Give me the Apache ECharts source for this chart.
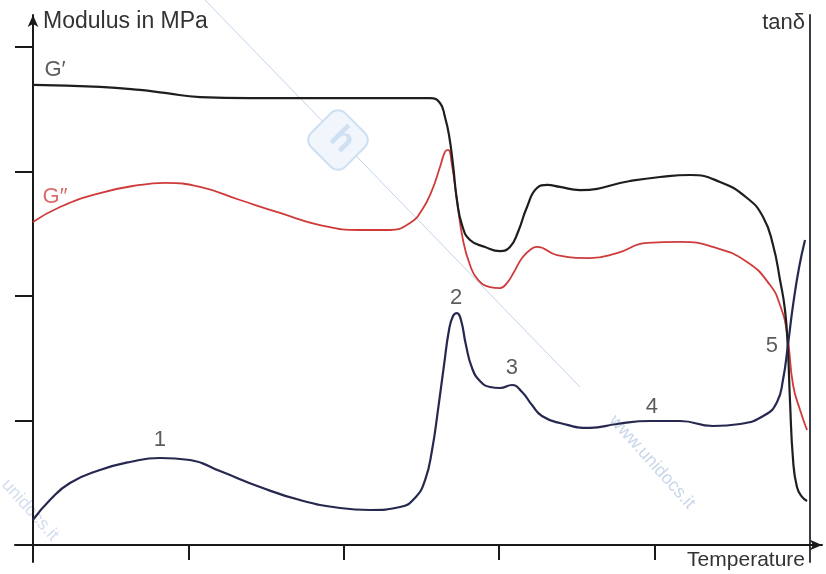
<!DOCTYPE html>
<html>
<head>
<meta charset="utf-8">
<script src="https://cdn.jsdelivr.net/npm/echarts@6/dist/echarts.min.js"></script>
<style>html,body{margin:0;padding:0;background:#fff}#c{width:826px;height:574px}</style>
</head>
<body>
<div id="c"></div>
<script>
// Temperature axis: relative units, ticks at 0..4 (unlabelled)
const xTicks = [0, 1, 2, 3, 4];
const yTicks = [1, 2, 3, 4];

// G' (storage modulus)
const gPrimeT = [0, 0.431, 0.689, 0.849, 1.075, 1.396, 1.847, 2.362, 2.555, 2.619, 2.651, 2.677, 2.703, 2.728, 2.761, 2.812, 2.909, 3.005, 3.069, 3.121, 3.179, 3.243, 3.308, 3.391, 3.520, 3.842, 4.035, 4.228, 4.421, 4.595, 4.698, 4.762, 4.807, 4.839, 4.858, 4.871, 4.891, 4.916, 4.949, 4.981];
const gPrimeV = [3.695, 3.679, 3.655, 3.631, 3.598, 3.590, 3.590, 3.590, 3.590, 3.550, 3.438, 3.293, 3.052, 2.771, 2.570, 2.450, 2.394, 2.361, 2.394, 2.514, 2.715, 2.867, 2.892, 2.876, 2.851, 2.924, 2.956, 2.972, 2.916, 2.787, 2.635, 2.410, 2.129, 1.888, 1.566, 1.165, 0.683, 0.466, 0.386, 0.353];

// G'' (loss modulus)
const gDoublePrimeT = [0, 0.174, 0.431, 0.689, 0.849, 1.075, 1.332, 1.589, 1.847, 2.104, 2.297, 2.426, 2.503, 2.568, 2.619, 2.651, 2.671, 2.696, 2.728, 2.767, 2.812, 2.864, 2.941, 3.005, 3.050, 3.095, 3.147, 3.198, 3.243, 3.372, 3.584, 3.758, 3.951, 4.163, 4.376, 4.595, 4.743, 4.807, 4.852, 4.891, 4.936, 4.981];
const gDoublePrimeV = [2.594, 2.715, 2.827, 2.892, 2.908, 2.876, 2.771, 2.667, 2.570, 2.530, 2.530, 2.586, 2.691, 2.851, 3.036, 3.157, 3.173, 3.052, 2.771, 2.450, 2.249, 2.129, 2.072, 2.064, 2.104, 2.193, 2.305, 2.369, 2.394, 2.329, 2.305, 2.345, 2.426, 2.434, 2.394, 2.273, 2.088, 1.928, 1.703, 1.285, 1.084, 0.924];

// tan delta
const tanDeltaT = [0, 0.109, 0.238, 0.431, 0.624, 0.817, 1.010, 1.203, 1.461, 1.718, 1.976, 2.169, 2.362, 2.458, 2.523, 2.568, 2.606, 2.645, 2.677, 2.703, 2.728, 2.754, 2.786, 2.825, 2.876, 2.941, 3.005, 3.082, 3.147, 3.211, 3.275, 3.391, 3.584, 3.758, 3.970, 4.163, 4.376, 4.550, 4.710, 4.788, 4.826, 4.858, 4.891, 4.929, 4.968];
const tanDeltaV = [0.201, 0.361, 0.498, 0.602, 0.667, 0.699, 0.683, 0.594, 0.466, 0.361, 0.297, 0.281, 0.305, 0.378, 0.522, 0.763, 1.084, 1.446, 1.727, 1.839, 1.863, 1.807, 1.606, 1.422, 1.317, 1.269, 1.261, 1.285, 1.229, 1.124, 1.036, 0.980, 0.940, 0.972, 0.996, 0.996, 0.956, 0.972, 1.044, 1.149, 1.325, 1.606, 1.928, 2.225, 2.450];

// Annotations (text, temperature, value)
const noteText = ["G\u2032", "G\u2033", "1", "2", "3", "4", "5"];
const noteT = [0.142, 0.142, 0.817, 2.722, 3.082, 3.983, 4.755];
const noteV = [3.815, 2.795, 0.843, 1.984, 1.422, 1.108, 1.598];
const noteIsRed = [false, true, false, false, false, false, false];

const zip = (a, b) => a.map((v, i) => [v, b[i]]);
const FONT = "'Liberation Sans', Arial, sans-serif";
const TXT = '#333';

const chart = echarts.init(document.getElementById('c'), null, {renderer: 'canvas'});
const axisBase = {
  splitLine: {show: false},
  axisLabel: {show: false}
};
chart.setOption({
  animation: false,
  backgroundColor: '#fff',
  grid: {left: 15, right: 4, top: 15, bottom: 12},
  xAxis: Object.assign({}, axisBase, {
    type: 'value', min: -0.1158, max: 5.0772,
    name: 'Temperature', nameLocation: 'end', nameGap: -17,
    nameTextStyle: {fontFamily: FONT, fontSize: 21, color: TXT, align: 'right', verticalAlign: 'top', padding: [5, 0, 0, 0]},
    axisLine: {show: true, onZero: true, symbol: ['none', 'arrow'], symbolSize: [8, 12], lineStyle: {color: '#1a1a1a', width: 2}},
    axisTick: {show: true, inside: false, length: 15, customValues: xTicks, lineStyle: {color: '#1a1a1a', width: 2}}
  }),
  yAxis: [
    Object.assign({}, axisBase, {
      type: 'value', min: -0.1365, max: 4.257,
      name: 'Modulus in MPa', nameLocation: 'end', nameGap: -7,
      nameTextStyle: {fontFamily: FONT, fontSize: 23, color: TXT, align: 'left', verticalAlign: 'middle', padding: [0, 0, 0, 10]},
      axisLine: {show: true, onZero: true, symbol: ['none', 'arrow'], symbolSize: [8, 12], lineStyle: {color: '#1a1a1a', width: 2}},
      axisTick: {show: true, inside: false, length: 18, customValues: yTicks, lineStyle: {color: '#1a1a1a', width: 2}}
    }),
    Object.assign({}, axisBase, {
      type: 'value', min: -0.1365, max: 4.257, position: 'right', offset: -12,
      name: 'tan\u03b4', nameLocation: 'end', nameGap: -8,
      nameTextStyle: {fontFamily: FONT, fontSize: 22, color: TXT, align: 'right', verticalAlign: 'middle', padding: [0, 5, 0, 0]},
      axisLine: {show: true, onZero: false, lineStyle: {color: '#3a3a48', width: 2}},
      axisTick: {show: false}
    })
  ],
  graphic: [
    {type: 'line', z: -10, silent: true, shape: {x1: 205, y1: 0, x2: 580, y2: 387}, style: {stroke: '#c2d3ec', lineWidth: 1}},
    {type: 'rect', z: -9, silent: true, x: 338, y: 140, rotation: Math.PI / 4,
      shape: {x: -24, y: -24, width: 48, height: 48, r: 10}, style: {fill: '#f1f6fc', stroke: '#cfdff2', lineWidth: 2}},
    {type: 'text', z: -9, silent: true, x: 342, y: 140, rotation: -Math.PI / 4,
      style: {text: 'h', font: 'bold 34px ' + FONT, fill: '#cfe0f3', align: 'center', verticalAlign: 'middle'}},
    {type: 'text', z: -10, silent: true, x: 652, y: 462, rotation: -0.84,
      style: {text: 'www.unidocs.it', font: '18px ' + FONT, fill: '#c9d6ea', align: 'center', verticalAlign: 'middle'}},
    {type: 'text', z: -10, silent: true, x: 30, y: 510, rotation: -0.84,
      style: {text: 'unidocs.it', font: '18px ' + FONT, fill: '#d3deee', align: 'center', verticalAlign: 'middle'}}
  ],
  series: [
    {name: "G'", type: 'line', data: zip(gPrimeT, gPrimeV), showSymbol: false, smooth: 0.5,
      lineStyle: {color: '#1e1e1e', width: 2.2}, silent: true, z: 3},
    {name: "G''", type: 'line', data: zip(gDoublePrimeT, gDoublePrimeV), showSymbol: false, smooth: 0.5,
      lineStyle: {color: '#cf3b3b', width: 1.8}, silent: true, z: 2},
    {name: 'tan\u03b4', type: 'line', yAxisIndex: 1, data: zip(tanDeltaT, tanDeltaV), showSymbol: false, smooth: 0.5,
      lineStyle: {color: '#26284f', width: 2.2}, silent: true, z: 4},
    {name: 'notes', type: 'scatter', symbolSize: 0, silent: true, z: 5,
      data: noteText.map((t, i) => ({value: [noteT[i], noteV[i]], name: t,
        label: {color: noteIsRed[i] ? '#d04848' : TXT}})),
      label: {show: true, position: 'inside', formatter: p => p.name, fontFamily: FONT, fontSize: 22, color: TXT}}
  ]
});
</script>
</body>
</html>
